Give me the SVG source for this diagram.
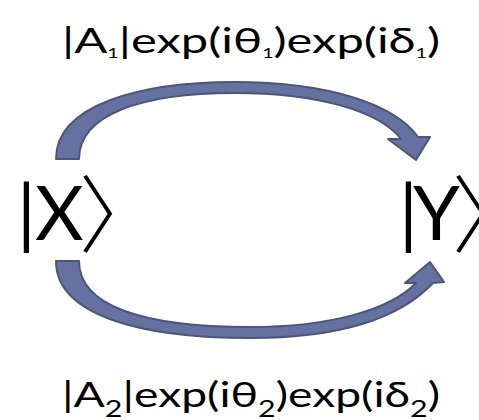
<svg xmlns="http://www.w3.org/2000/svg" width="479" height="420" viewBox="0 0 479 420">
<style>
.arrow{fill:#6571a1;stroke:#4c5679;stroke-width:2;stroke-linejoin:round}
.lbl{font-family:Lato,"Open Sans","DejaVu Sans",sans-serif;font-size:35px;fill:#000}
.state{font-family:Lato,"Open Sans","DejaVu Sans",sans-serif;font-size:75px;fill:#000}
.br{font-family:"Noto Sans CJK SC","Noto Sans CJK JP",sans-serif;font-size:84px;font-weight:300}
</style>
<rect width="479" height="420" fill="#fff"/>
<g id="connectors">
<path class="arrow" d="M56,159 C56,105 140,82 235,82 C330,82 395,105 418,137 L430,137 L416,160 L388,139 L401,139 C380,112 320,93 235,93 C140,93 79,115 79,159 Z"/>
<path class="arrow" d="M56,261 C56,315 140,338 250,338 C340,338 400,318 433,283 L444,282 L430,262 L405,283 L416,283 C390,310 330,327 250,327 C140,327 79,305 79,261 Z"/>
</g>
<g id="node-x">
<text class="state" y="240"><tspan x="17">|</tspan><tspan x="35">X</tspan><tspan class="br" x="79" y="246">〉</tspan></text>
</g>
<g id="node-y">
<text class="state" y="240"><tspan x="399">|</tspan><tspan x="413">Y</tspan><tspan class="br" x="452" y="246">〉</tspan></text>
</g>
<g id="label-top">
<text class="lbl" x="62" y="53" textLength="378" lengthAdjust="spacingAndGlyphs">|A<tspan font-size="14" dy="5">1</tspan><tspan dy="-5">|exp(iθ</tspan><tspan font-size="14" dy="5">1</tspan><tspan dy="-5">)exp(iδ</tspan><tspan font-size="14" dy="5">1</tspan><tspan dy="-5">)</tspan></text>
</g>
<g id="label-bottom">
<text class="lbl" x="62" y="407" textLength="378" lengthAdjust="spacingAndGlyphs">|A<tspan font-size="23" dy="10">2</tspan><tspan dy="-10">|exp(iθ</tspan><tspan font-size="23" dy="10">2</tspan><tspan dy="-10">)exp(iδ</tspan><tspan font-size="23" dy="10">2</tspan><tspan dy="-10">)</tspan></text>
</g>
</svg>
